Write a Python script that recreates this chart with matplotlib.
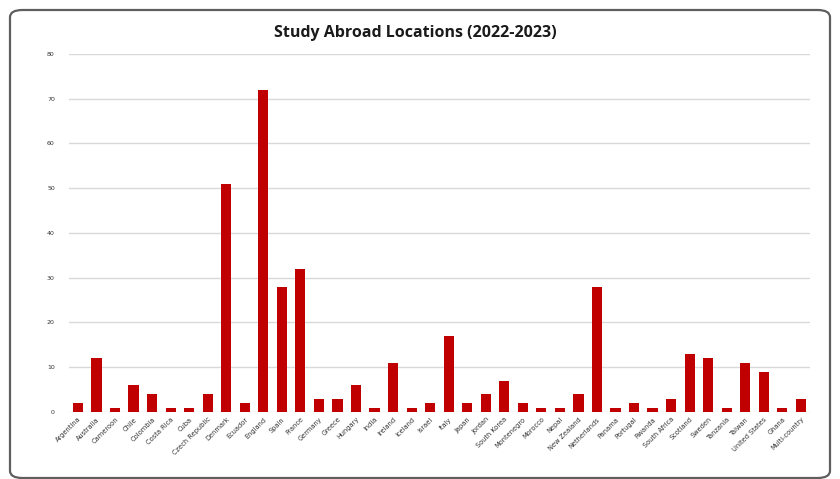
import matplotlib
matplotlib.use("Agg")
import matplotlib.pyplot as plt
from matplotlib.patches import FancyBboxPatch

countries = ["Argentina", "Australia", "Cameroon", "Chile", "Colombia", "Costa Rica",
             "Cuba", "Czech Republic", "Denmark", "Ecuador", "England", "Spain",
             "France", "Germany", "Greece", "Hungary", "India", "Ireland", "Iceland",
             "Israel", "Italy", "Japan", "Jordan", "South Korea", "Montenegro",
             "Morocco", "Nepal", "New Zealand", "Netherlands", "Panama", "Portugal",
             "Rwanda", "South Africa", "Scotland", "Sweden", "Tanzania", "Taiwan",
             "United States", "Ghana", "Multi-country"]
students = [2, 12, 1, 6, 4, 1, 1, 4, 51, 2, 72, 28, 32, 3, 3, 6, 1, 11, 1, 2,
            17, 2, 4, 7, 2, 1, 1, 4, 28, 1, 2, 1, 3, 13, 12, 1, 11, 9, 1, 3]
yticks = [0, 10, 20, 30, 40, 50, 60, 70, 80]

fig = plt.figure(figsize=(8.4, 4.79), dpi=100)
fig.patch.set_facecolor("white")

# rounded frame around the whole chart
frame = FancyBboxPatch((10/840, 1/479), 820/840, 468/479,
                       boxstyle="round,pad=0,rounding_size=0.015",
                       transform=fig.transFigure, facecolor="none",
                       edgecolor="#5f5f5f", linewidth=1.6)
fig.patches.append(frame)

ax = fig.add_axes([0.0818, 0.1399, 0.8826, 0.7474])
x = range(len(countries))
ax.bar(x, students, width=0.55, color="#c00000", zorder=3)

ax.set_xlim(-0.5, len(countries) - 0.5)
ax.set_ylim(0, 80)
ax.set_yticks(yticks)
ax.set_yticklabels([str(v) for v in yticks], fontsize=4.5, color="#333333")
ax.set_xticks(list(x))
ax.set_xticklabels(countries, rotation=45, ha="right", rotation_mode="anchor",
                   fontsize=4.8, color="#333333")
ax.tick_params(axis="both", length=0)
ax.tick_params(axis="y", pad=10)
ax.tick_params(axis="x", pad=3)
ax.grid(axis="y", color="#d9d9d9", linewidth=1, zorder=0)
for s in ax.spines.values():
    s.set_visible(False)

fig.text(0.494, 0.931, "Study Abroad Locations (2022-2023)", ha="center", va="center",
         fontsize=11.5, fontweight="bold", family="Open Sans", color="#1a1a1a")

fig.savefig("out.png", dpi=100, facecolor="white")
